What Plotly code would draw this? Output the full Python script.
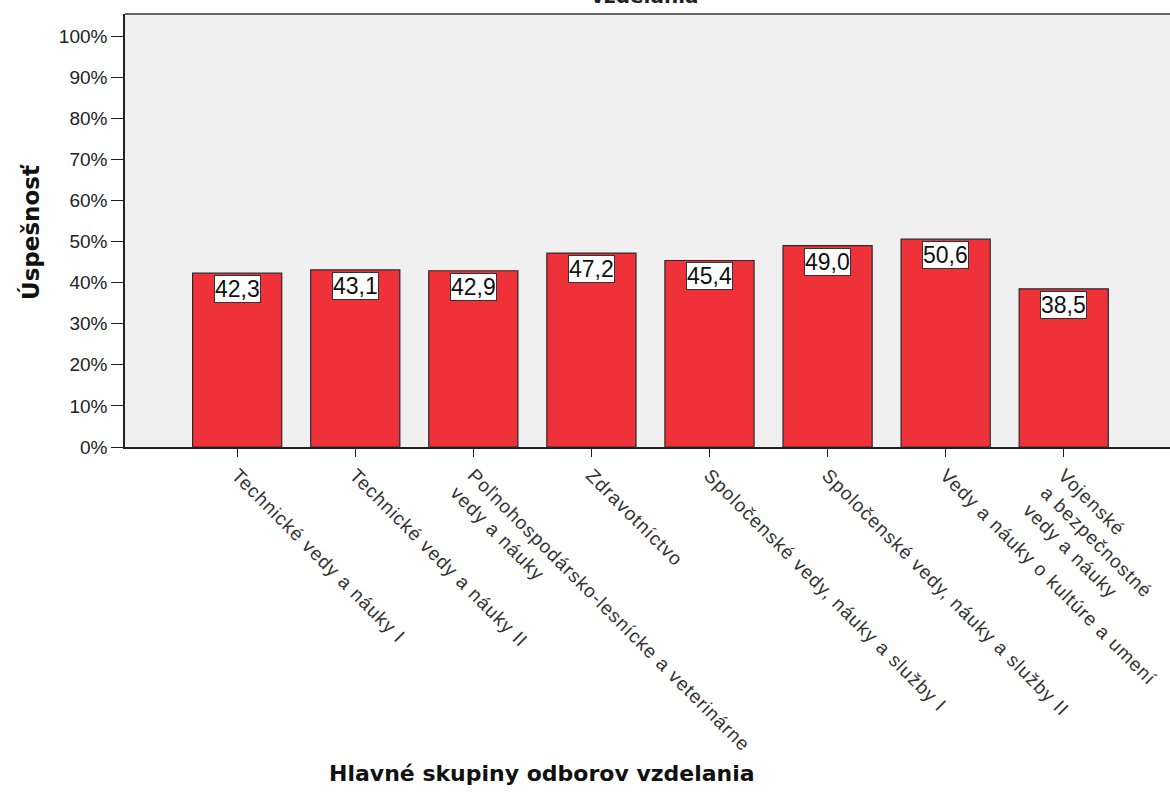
import plotly.graph_objects as go

categories = [
    "Technické vedy a náuky I",
    "Technické vedy a náuky II",
    "Poľnohospodársko-lesnícke a veterinárne<br>vedy a náuky",
    "Zdravotníctvo",
    "Spoločenské vedy, náuky a služby I",
    "Spoločenské vedy, náuky a služby II",
    "Vedy a náuky o kultúre a umení",
    "Vojenské<br>a bezpečnostné<br>vedy a náuky",
]
values = [42.3, 43.1, 42.9, 47.2, 45.4, 49.0, 50.6, 38.5]
value_labels = [f"{v:.1f}".replace(".", ",") for v in values]
y_ticks = [0, 10, 20, 30, 40, 50, 60, 70, 80, 90, 100]
y_tick_text = [f"{t}%" for t in y_ticks]

FONT = "Liberation Sans, Arial, sans-serif"
BOLD = "DejaVu Sans, Verdana, sans-serif"

L, R, T, B = 125, 0, 14, 351
W, H = 1170, 798
PW = W - L - R
PH = H - T - B

fig = go.Figure()
fig.add_trace(go.Bar(
    x=list(range(len(categories))),
    y=values,
    width=0.755,
    marker=dict(color="#EF323A", line=dict(color="#2a2a2a", width=1.2)),
    hoverinfo="skip",
))

for i, (v, lab) in enumerate(zip(values, value_labels)):
    fig.add_annotation(
        x=i, y=v, xref="x", yref="y", text=lab, showarrow=False,
        yanchor="top", yshift=-2,
        font=dict(family=FONT, size=23, color="#111"),
        bgcolor="white", bordercolor="#333", borderwidth=1, borderpad=0,
    )

# partially visible title at the top
fig.add_annotation(
    x=(645 - L) / PW, xref="paper", y=1 + (T - 10) / PH, yref="paper", text="<b>vzdelania</b>",
    showarrow=False, yanchor="bottom",
    font=dict(family=BOLD, size=20, color="#222"),
)
fig.add_annotation(
    x=(542 - L) / PW, xref="paper", y=-(773 - (H - B)) / PH, yref="paper",
    text="<b>Hlavné skupiny odborov vzdelania</b>",
    showarrow=False, yanchor="middle",
    font=dict(family=BOLD, size=22, color="#111"),
)
fig.add_annotation(
    x=(30 - L) / PW, xref="paper", y=(H - B - 232) / PH, yref="paper",
    text="<b>Úspešnosť</b>", textangle=-90,
    showarrow=False, xanchor="center", yanchor="middle",
    font=dict(family=BOLD, size=23, color="#111"),
)

fig.update_layout(
    width=W, height=H,
    margin=dict(l=L, r=R, t=T, b=B),
    paper_bgcolor="white", plot_bgcolor="#F0F0F0",
    showlegend=False,
    font=dict(family=FONT, size=13, color="#222"),
    xaxis=dict(
        tickmode="array", tickvals=list(range(len(categories))), ticktext=categories,
        range=[-0.95, 7.9], tickangle=45, ticks="outside", ticklen=8, tickcolor="#222",
        showline=True, linecolor="#222", linewidth=1.5, showgrid=False, zeroline=False,
        tickfont=dict(family=FONT, size=19, color="#333"),
    ),
    yaxis=dict(
        range=[0, 105.4], tickmode="array", tickvals=y_ticks, ticktext=y_tick_text,
        ticks="outside", ticklen=12,
        tickcolor="#222", showline=True, linecolor="#222", linewidth=1.5, showgrid=False,
        zeroline=False, tickfont=dict(family=FONT, size=19, color="#222"),
    ),
)
fig.add_shape(type="line", xref="paper", yref="paper", x0=0, x1=1, y0=1, y1=1,
              line=dict(color="#666", width=2))

post = (
    "document.body.style.margin='0';document.body.style.overflow='hidden';"
    "var s=document.createElement('style');"
    "s.textContent='.xtick text{letter-spacing:1px}';"
    "document.head.appendChild(s);"
)
fig.write_html("out.html", post_script=post, config={"displayModeBar": False})
